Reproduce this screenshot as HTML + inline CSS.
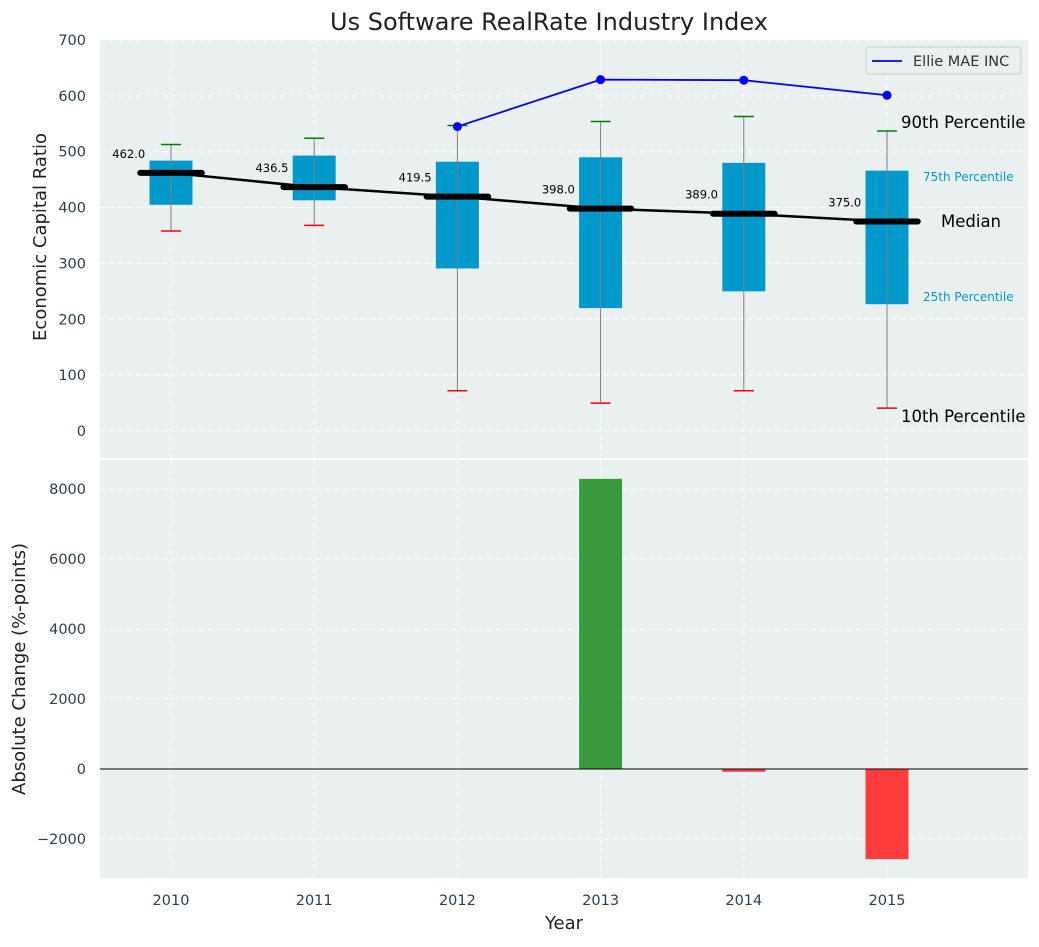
<!DOCTYPE html>
<html><head><meta charset="utf-8">
<style>
body{margin:0;background:#fff;font-family:"Liberation Sans","DejaVu Sans",sans-serif;}
svg text{font-family:"DejaVu Sans","Liberation Sans",sans-serif;}
</style></head>
<body>
<svg id="chart" width="1039" height="942" xmlns="http://www.w3.org/2000/svg"></svg>
<script>
const years=[2010,2011,2012,2013,2014,2015];
const q1=[405,413,291,220,250,227];
const q3=[484,493,482,490,480,466];
const medians=[462.0,436.5,419.5,398.0,389.0,375.0];
const p10=[358,368,72,50,72,41];
const p90=[513,524,547,554,563,537];
const ellieYears=[2012,2013,2014,2015];
const ellieVals=[545,629,628,601];
const changes=[0,0,0,8290,-80,-2575];
const topTicks=[0,100,200,300,400,500,600,700];
const botTicks=[-2000,0,2000,4000,6000,8000];

const svg=document.getElementById('chart');
const NS='http://www.w3.org/2000/svg';
function el(tag,attrs,parent){const e=document.createElementNS(NS,tag);for(const k in attrs)e.setAttribute(k,attrs[k]);(parent||svg).appendChild(e);return e;}
function txt(s,attrs,parent){const e=el('text',attrs,parent);e.textContent=s;return e;}

const L=100,R=1028;
const PY=143.2;
const x=v=>171+(v-2010)*PY;
const yT=v=>431-v*0.5586;
const yB=v=>769-v*0.035;

const p1=el('rect',{x:L,y:40,width:R-L,height:418,fill:'#eaeff0'});

const p2=el('rect',{x:L,y:460,width:R-L,height:418,fill:'#eaeff0'});


years.forEach(yr=>{
  el('line',{x1:x(yr),x2:x(yr),y1:40,y2:458,stroke:'#fff','stroke-dasharray':'5,4','stroke-width':1});
  el('line',{x1:x(yr),x2:x(yr),y1:460,y2:878,stroke:'#fff','stroke-dasharray':'5,4','stroke-width':1});
});
topTicks.forEach(t=>{
  el('line',{x1:L,x2:R,y1:yT(t),y2:yT(t),stroke:'#fff','stroke-dasharray':'5,4'});
  const l=txt(t,{x:86,y:yT(t)+5,'text-anchor':'end','font-size':14.5,fill:'#2c3e50'});
  
});
botTicks.forEach(t=>{
  el('line',{x1:L,x2:R,y1:yB(t),y2:yB(t),stroke:'#fff','stroke-dasharray':'5,4'});
  const l=txt(t<0?'\u2212'+Math.abs(t):t,{x:86,y:yB(t)+5,'text-anchor':'end','font-size':14.5,fill:'#2c3e50'});
  
});

const bw=PY*0.3, mw=PY*0.43, cw=20;
years.forEach((yr,i)=>{
  const cx=x(yr);
  const b=el('rect',{x:cx-bw/2,y:yT(q3[i]),width:bw,height:yT(q1[i])-yT(q3[i]),fill:'#0099cc'});
  
  el('line',{x1:cx,x2:cx,y1:yT(p10[i]),y2:yT(p90[i]),stroke:'#808080','stroke-width':1});
  const c1=el('line',{x1:cx-cw/2,x2:cx+cw/2,y1:yT(p90[i]),y2:yT(p90[i]),stroke:'green','stroke-width':1.5});
  
  const c2=el('line',{x1:cx-cw/2,x2:cx+cw/2,y1:yT(p10[i]),y2:yT(p10[i]),stroke:'red','stroke-width':1.5});
  
});
const mp=el('polyline',{points:years.map((yr,i)=>x(yr)+','+yT(medians[i])).join(' '),fill:'none',stroke:'#000','stroke-width':2.5});

years.forEach((yr,i)=>{
  const cx=x(yr);
  const m=el('line',{x1:cx-mw/2,x2:cx+mw/2,y1:yT(medians[i]),y2:yT(medians[i]),stroke:'#000','stroke-width':6,'stroke-linecap':'round'});
  
  const l=txt(medians[i].toFixed(1),{x:cx-mw/2+5,y:yT(medians[i])-15,'text-anchor':'end','font-size':11.5,fill:'#000'});
  
});
const el1=el('polyline',{points:ellieYears.map((yr,i)=>x(yr)+','+yT(ellieVals[i])).join(' '),fill:'none',stroke:'blue','stroke-width':1.8});

ellieYears.forEach((yr,i)=>{
  const d=el('circle',{cx:x(yr),cy:yT(ellieVals[i]),r:4.5,fill:'blue'});
  
});
const ax=x(2015);
[['90th Percentile',ax+14,128,16.5,'#000'],['75th Percentile',ax+36,181,12,'#0099cc'],['Median',ax+54,227,16.5,'#000'],['25th Percentile',ax+36,301,12,'#0099cc'],['10th Percentile',ax+14,422,16.5,'#000']].forEach(a=>{
  const t=txt(a[0],{x:a[1],y:a[2],'font-size':a[3],fill:a[4]});
  
});
const lg=el('g',{});
el('rect',{x:866,y:47,width:155,height:27,fill:'#eaeff0',stroke:'#ccc',rx:3},lg);
el('line',{x1:872,x2:902,y1:61,y2:61,stroke:'blue','stroke-width':1.8},lg);
txt('Ellie MAE INC',{x:913,y:66,'font-size':14.5,fill:'#333'},lg);

years.forEach((yr,i)=>{
  if(changes[i]===0)return;
  const y0=yB(0),y1=yB(changes[i]);
  const b=el('rect',{x:x(yr)-bw/2,y:Math.min(y0,y1),width:bw,height:Math.max(1,Math.abs(y1-y0)),fill:changes[i]>0?'#3a9b3e':'#ff3b3b'});
  
});
el('line',{x1:L,x2:R,y1:yB(0),y2:yB(0),stroke:'#000','stroke-width':1});

years.forEach(yr=>{
  const l=txt(yr,{x:x(yr),y:905,'text-anchor':'middle','font-size':14.5,fill:'#2c3e50'});
  
});
const t=txt('Us Software RealRate Industry Index',{x:549,y:30,'text-anchor':'middle','font-size':24,fill:'#222'});

const xt=txt('Year',{x:564,y:929,'text-anchor':'middle','font-size':18,fill:'#222'});

const y1t=txt('Economic Capital Ratio',{x:0,y:0,'text-anchor':'middle','font-size':18,fill:'#222',transform:'translate(46,237) rotate(-90)'});

const y2t=txt('Absolute Change (%-points)',{x:0,y:0,'text-anchor':'middle','font-size':18,fill:'#222',transform:'translate(25,669) rotate(-90)'});

</script>
</body></html>
